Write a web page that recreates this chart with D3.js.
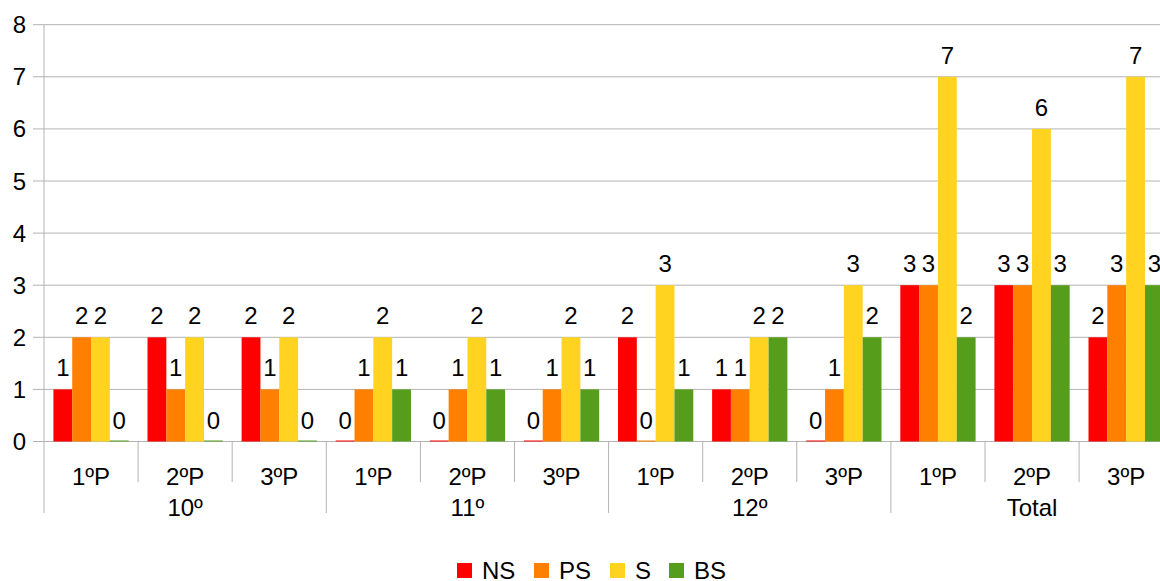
<!DOCTYPE html>
<html>
<head>
<meta charset="utf-8">
<script src="https://cdn.jsdelivr.net/npm/d3@7"></script>
<style>
  body { margin: 0; background: #fff; }
  text { font-family: "Liberation Sans", Arial, sans-serif; fill: #000; }
</style>
</head>
<body>
<div id="chart"></div>
<script>
// data
const groups = ["10º", "11º", "12º", "Total"];
const periods = ["1ºP", "2ºP", "3ºP"];
const seriesNames = ["NS", "PS", "S", "BS"];
const colors = ["#ff0000", "#ff8000", "#ffd320", "#579d1c"];
const yTicks = [0, 1, 2, 3, 4, 5, 6, 7, 8];

const NS = [1, 2, 2, 0, 0, 0, 2, 1, 0, 3, 3, 2];
const PS = [2, 1, 1, 1, 1, 1, 0, 1, 1, 3, 3, 3];
const S  = [2, 2, 2, 2, 2, 2, 3, 2, 3, 7, 6, 7];
const BS = [0, 0, 0, 1, 1, 1, 1, 2, 2, 2, 3, 3];

const series = [NS, PS, S, BS];

// one entry per category (group x period)
const cats = [];
groups.forEach(g => periods.forEach(p => cats.push({ group: g, period: p, key: g + "|" + p })));

const W = 1160, H = 581;
const plotLeft = 44, step = 94.1;
const plotTop = 24.7, plotBottom = 441.5;

const svg = d3.select("#chart").append("svg")
    .attr("width", W)
    .attr("height", H);

// scales
const x = d3.scaleBand()
    .domain(cats.map(d => d.key))
    .range([plotLeft, plotLeft + step * cats.length])
    .paddingInner(0.2)
    .paddingOuter(0.1);

const xSeries = d3.scaleBand()
    .domain(seriesNames)
    .range([0, x.bandwidth()]);

const y = d3.scaleLinear()
    .domain([0, 8])
    .range([plotBottom, plotTop]);

// gridlines + y tick labels
svg.append("g").selectAll("line")
    .data(yTicks)
    .join("line")
    .attr("x1", plotLeft - 11)
    .attr("x2", W)
    .attr("y1", d => y(d))
    .attr("y2", d => y(d))
    .attr("stroke", "#b3b3b3")
    .attr("stroke-width", 1);

svg.append("g").selectAll("text")
    .data(yTicks)
    .join("text")
    .attr("x", 26)
    .attr("y", d => y(d) + 8.5)
    .attr("text-anchor", "end")
    .style("font-size", "24px")
    .text(d => d);

// y axis line
svg.append("line")
    .attr("x1", plotLeft).attr("x2", plotLeft)
    .attr("y1", plotTop).attr("y2", plotBottom)
    .attr("stroke", "#b3b3b3");

// bars
series.forEach((vals, si) => {
    svg.append("g").selectAll("rect")
        .data(cats.map((c, i) => ({ key: c.key, v: vals[i] })))
        .join("rect")
        .attr("x", d => x(d.key) + xSeries(seriesNames[si]))
        .attr("width", xSeries.bandwidth())
        .attr("y", d => y(d.v) - (d.v === 0 ? 1 : 0))
        .attr("height", d => Math.max(1, y(0) - y(d.v)))
        .attr("fill", colors[si]);

    svg.append("g").selectAll("text")
        .data(cats.map((c, i) => ({ key: c.key, v: vals[i] })))
        .join("text")
        .attr("x", d => x(d.key) + xSeries(seriesNames[si]) + xSeries.bandwidth() / 2)
        .attr("y", d => y(d.v) - 13)
        .attr("text-anchor", "middle")
        .style("font-size", "24px")
        .text(d => d.v);
});

// category ticks (short between periods, long between groups)
const boundaries = d3.range(cats.length + 1);
svg.append("g").selectAll("line")
    .data(boundaries)
    .join("line")
    .attr("x1", i => plotLeft + i * step)
    .attr("x2", i => plotLeft + i * step)
    .attr("y1", plotBottom)
    .attr("y2", i => i % 3 === 0 ? 513 : 482)
    .attr("stroke", "#b3b3b3");

// period labels
svg.append("g").selectAll("text")
    .data(cats)
    .join("text")
    .attr("x", d => x(d.key) + x.bandwidth() / 2)
    .attr("y", 485)
    .attr("text-anchor", "middle")
    .style("font-size", "24px")
    .text(d => d.period);

// group labels
svg.append("g").selectAll("text")
    .data(groups)
    .join("text")
    .attr("x", (g, i) => plotLeft + (i * 3 + 1.5) * step)
    .attr("y", 516)
    .attr("text-anchor", "middle")
    .style("font-size", "24px")
    .text(d => d);

// legend
const legendX = [457, 534, 610, 669];
const legend = svg.append("g").selectAll("g")
    .data(seriesNames)
    .join("g")
    .attr("transform", (d, i) => `translate(${legendX[i]},563)`);
legend.append("rect")
    .attr("width", 15).attr("height", 15)
    .attr("fill", (d, i) => colors[i]);
legend.append("text")
    .attr("x", 25)
    .attr("y", 16)
    .style("font-size", "24px")
    .text(d => d);
</script>
</body>
</html>
